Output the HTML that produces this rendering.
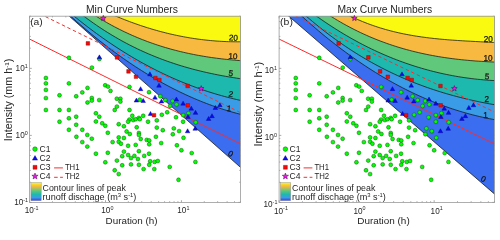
<!DOCTYPE html><html><head><meta charset="utf-8"><style>html,body{margin:0;padding:0;background:#fff;overflow:hidden}svg{display:block;will-change:transform}text{font-family:"Liberation Sans",sans-serif}</style></head><body>
<svg width="500" height="231" viewBox="0 0 500 231">
<rect width="500" height="231" fill="#fff"/>
<clipPath id="ca"><rect x="29.6" y="16.2" width="210.9" height="186.2"/></clipPath>
<path d="M29.6,202.4v-2.2 M29.6,16.2v2.2 M29.6,202.4h2.2 M240.5,202.4h-2.2 M52.45,202.4v-1.2 M52.45,16.2v1.2 M29.6,182.22h1.2 M240.5,182.22h-1.2 M65.82,202.4v-1.2 M65.82,16.2v1.2 M29.6,170.42h1.2 M240.5,170.42h-1.2 M75.3,202.4v-1.2 M75.3,16.2v1.2 M29.6,162.05h1.2 M240.5,162.05h-1.2 M82.66,202.4v-1.2 M82.66,16.2v1.2 M29.6,155.55h1.2 M240.5,155.55h-1.2 M88.67,202.4v-1.2 M88.67,16.2v1.2 M29.6,150.25h1.2 M240.5,150.25h-1.2 M93.75,202.4v-1.2 M93.75,16.2v1.2 M29.6,145.76h1.2 M240.5,145.76h-1.2 M98.16,202.4v-1.2 M98.16,16.2v1.2 M29.6,141.87h1.2 M240.5,141.87h-1.2 M102.04,202.4v-1.2 M102.04,16.2v1.2 M29.6,138.44h1.2 M240.5,138.44h-1.2 M105.51,202.4v-2.2 M105.51,16.2v2.2 M29.6,135.38h2.2 M240.5,135.38h-2.2 M128.37,202.4v-1.2 M128.37,16.2v1.2 M29.6,115.2h1.2 M240.5,115.2h-1.2 M141.73,202.4v-1.2 M141.73,16.2v1.2 M29.6,103.4h1.2 M240.5,103.4h-1.2 M151.22,202.4v-1.2 M151.22,16.2v1.2 M29.6,95.03h1.2 M240.5,95.03h-1.2 M158.58,202.4v-1.2 M158.58,16.2v1.2 M29.6,88.53h1.2 M240.5,88.53h-1.2 M164.59,202.4v-1.2 M164.59,16.2v1.2 M29.6,83.22h1.2 M240.5,83.22h-1.2 M169.67,202.4v-1.2 M169.67,16.2v1.2 M29.6,78.74h1.2 M240.5,78.74h-1.2 M174.07,202.4v-1.2 M174.07,16.2v1.2 M29.6,74.85h1.2 M240.5,74.85h-1.2 M177.95,202.4v-1.2 M177.95,16.2v1.2 M29.6,71.42h1.2 M240.5,71.42h-1.2 M181.43,202.4v-2.2 M181.43,16.2v2.2 M29.6,68.35h2.2 M240.5,68.35h-2.2 M204.28,202.4v-1.2 M204.28,16.2v1.2 M29.6,48.18h1.2 M240.5,48.18h-1.2 M217.65,202.4v-1.2 M217.65,16.2v1.2 M29.6,36.38h1.2 M240.5,36.38h-1.2 M227.13,202.4v-1.2 M227.13,16.2v1.2 M29.6,28h1.2 M240.5,28h-1.2 M234.49,202.4v-1.2 M234.49,16.2v1.2 M29.6,21.51h1.2 M240.5,21.51h-1.2 M240.5,202.4v-1.2 M240.5,16.2v1.2 M29.6,16.2h1.2 M240.5,16.2h-1.2" stroke="#555" stroke-width="0.5" fill="none"/>
<g clip-path="url(#ca)">
<path d="M-8.36,-52.36 L257.34,182.22 L260.5,182.22 L260.5,-3.8 L-8.36,-3.8Z" fill="#3A6DF0"/>
<path d="M67.36,13.14 70.32,15.84 73.28,18.51 76.24,21.14 79.2,23.74 82.16,26.3 85.12,28.83 88.08,31.33 91.04,33.79 94,36.22 96.96,38.61 99.92,40.97 102.88,43.3 105.84,45.59 108.81,47.85 111.77,50.08 114.73,52.27 117.69,54.42 120.65,56.55 123.61,58.64 126.57,60.69 129.53,62.71 132.49,64.7 135.45,66.66 138.41,68.58 141.37,70.46 144.33,72.32 147.29,74.13 150.25,75.92 153.21,77.67 156.17,79.39 159.13,81.08 162.09,82.73 165.05,84.35 168.01,85.93 170.97,87.48 173.93,89 176.89,90.48 179.85,91.93 182.81,93.35 185.77,94.73 188.73,96.08 191.69,97.4 194.65,98.68 197.61,99.93 200.57,101.15 203.53,102.33 206.49,103.48 209.46,104.6 212.42,105.68 215.38,106.73 218.34,107.75 221.3,108.73 224.26,109.68 227.22,110.6 230.18,111.48 233.14,112.33 236.1,113.15 239.06,113.94 242.02,114.69 L260.5,114.69 L260.5,-3.8 L67.36,-3.8Z" fill="#3A9CE6"/>
<path d="M70.44,13.12 73.34,15.54 76.25,17.91 79.16,20.26 82.07,22.57 84.98,24.84 87.88,27.08 90.79,29.29 93.7,31.46 96.61,33.6 99.52,35.7 102.43,37.78 105.33,39.81 108.24,41.82 111.15,43.79 114.06,45.73 116.97,47.64 119.87,49.51 122.78,51.35 125.69,53.16 128.6,54.94 131.51,56.68 134.42,58.4 137.32,60.08 140.23,61.73 143.14,63.35 146.05,64.93 148.96,66.49 151.86,68.01 154.77,69.51 157.68,70.97 160.59,72.4 163.5,73.81 166.41,75.18 169.31,76.52 172.22,77.83 175.13,79.12 178.04,80.37 180.95,81.59 183.85,82.79 186.76,83.95 189.67,85.09 192.58,86.19 195.49,87.27 198.4,88.32 201.3,89.34 204.21,90.33 207.12,91.3 210.03,92.23 212.94,93.14 215.84,94.02 218.75,94.87 221.66,95.7 224.57,96.49 227.48,97.27 230.39,98.01 233.29,98.73 236.2,99.42 239.11,100.08 242.02,100.72 L260.5,100.72 L260.5,-3.8 L70.44,-3.8Z" fill="#1DB9AF"/>
<path d="M79.89,13.14 82.63,15.25 85.38,17.32 88.13,19.35 90.88,21.33 93.63,23.27 96.37,25.17 99.12,27.02 101.87,28.84 104.62,30.61 107.37,32.35 110.11,34.04 112.86,35.7 115.61,37.31 118.36,38.89 121.11,40.44 123.85,41.94 126.6,43.41 129.35,44.84 132.1,46.24 134.85,47.6 137.59,48.93 140.34,50.22 143.09,51.48 145.84,52.71 148.59,53.91 151.33,55.07 154.08,56.2 156.83,57.3 159.58,58.38 162.33,59.42 165.07,60.43 167.82,61.41 170.57,62.37 173.32,63.29 176.07,64.19 178.81,65.07 181.56,65.91 184.31,66.73 187.06,67.53 189.81,68.3 192.55,69.05 195.3,69.77 198.05,70.47 200.8,71.14 203.55,71.8 206.29,72.43 209.04,73.04 211.79,73.63 214.54,74.21 217.29,74.76 220.03,75.29 222.78,75.8 225.53,76.3 228.28,76.78 231.03,77.24 233.77,77.68 236.52,78.11 239.27,78.52 242.02,78.92 L260.5,78.92 L260.5,-3.8 L79.89,-3.8Z" fill="#5FC87B"/>
<path d="M91.38,13.16 93.94,14.81 96.49,16.42 99.04,18 101.6,19.54 104.15,21.05 106.7,22.52 109.26,23.96 111.81,25.36 114.36,26.73 116.92,28.06 119.47,29.36 122.02,30.63 124.58,31.86 127.13,33.06 129.68,34.24 132.23,35.37 134.79,36.48 137.34,37.56 139.89,38.61 142.45,39.63 145,40.62 147.55,41.58 150.11,42.51 152.66,43.42 155.21,44.3 157.77,45.15 160.32,45.97 162.87,46.77 165.43,47.54 167.98,48.29 170.53,49.01 173.08,49.71 175.64,50.38 178.19,51.03 180.74,51.65 183.3,52.26 185.85,52.84 188.4,53.39 190.96,53.93 193.51,54.45 196.06,54.94 198.62,55.42 201.17,55.87 203.72,56.3 206.27,56.72 208.83,57.12 211.38,57.5 213.93,57.86 216.49,58.2 219.04,58.52 221.59,58.83 224.15,59.13 226.7,59.4 229.25,59.67 231.81,59.91 234.36,60.15 236.91,60.36 239.47,60.57 242.02,60.76 L260.5,60.76 L260.5,-3.8 L91.38,-3.8Z" fill="#F7B93F"/>
<path d="M109.03,13.16 111.29,14.16 113.54,15.14 115.79,16.1 118.05,17.04 120.3,17.96 122.56,18.87 124.81,19.76 127.06,20.64 129.32,21.49 131.57,22.33 133.83,23.15 136.08,23.95 138.33,24.73 140.59,25.5 142.84,26.25 145.1,26.98 147.35,27.7 149.6,28.39 151.86,29.07 154.11,29.73 156.37,30.37 158.62,31 160.87,31.61 163.13,32.2 165.38,32.77 167.64,33.33 169.89,33.86 172.14,34.38 174.4,34.89 176.65,35.37 178.91,35.84 181.16,36.29 183.41,36.72 185.67,37.13 187.92,37.53 190.18,37.91 192.43,38.27 194.68,38.61 196.94,38.94 199.19,39.25 201.45,39.54 203.7,39.81 205.95,40.07 208.21,40.3 210.46,40.52 212.72,40.73 214.97,40.91 217.22,41.08 219.48,41.23 221.73,41.36 223.99,41.47 226.24,41.57 228.49,41.65 230.75,41.71 233,41.75 235.26,41.78 237.51,41.79 239.76,41.78 242.02,41.75 L260.5,41.75 L260.5,-3.8 L109.03,-3.8Z" fill="#F9FA10"/>
<path d="M-8.36,-52.36 257.34,182.22 M67.36,13.14 70.32,15.84 73.28,18.51 76.24,21.14 79.2,23.74 82.16,26.3 85.12,28.83 88.08,31.33 91.04,33.79 94,36.22 96.96,38.61 99.92,40.97 102.88,43.3 105.84,45.59 108.81,47.85 111.77,50.08 114.73,52.27 117.69,54.42 120.65,56.55 123.61,58.64 126.57,60.69 129.53,62.71 132.49,64.7 135.45,66.66 138.41,68.58 141.37,70.46 144.33,72.32 147.29,74.13 150.25,75.92 153.21,77.67 156.17,79.39 159.13,81.08 162.09,82.73 165.05,84.35 168.01,85.93 170.97,87.48 173.93,89 176.89,90.48 179.85,91.93 182.81,93.35 185.77,94.73 188.73,96.08 191.69,97.4 194.65,98.68 197.61,99.93 200.57,101.15 203.53,102.33 206.49,103.48 209.46,104.6 212.42,105.68 215.38,106.73 218.34,107.75 221.3,108.73 224.26,109.68 227.22,110.6 230.18,111.48 233.14,112.33 236.1,113.15 239.06,113.94 242.02,114.69 M70.44,13.12 73.34,15.54 76.25,17.91 79.16,20.26 82.07,22.57 84.98,24.84 87.88,27.08 90.79,29.29 93.7,31.46 96.61,33.6 99.52,35.7 102.43,37.78 105.33,39.81 108.24,41.82 111.15,43.79 114.06,45.73 116.97,47.64 119.87,49.51 122.78,51.35 125.69,53.16 128.6,54.94 131.51,56.68 134.42,58.4 137.32,60.08 140.23,61.73 143.14,63.35 146.05,64.93 148.96,66.49 151.86,68.01 154.77,69.51 157.68,70.97 160.59,72.4 163.5,73.81 166.41,75.18 169.31,76.52 172.22,77.83 175.13,79.12 178.04,80.37 180.95,81.59 183.85,82.79 186.76,83.95 189.67,85.09 192.58,86.19 195.49,87.27 198.4,88.32 201.3,89.34 204.21,90.33 207.12,91.3 210.03,92.23 212.94,93.14 215.84,94.02 218.75,94.87 221.66,95.7 224.57,96.49 227.48,97.27 230.39,98.01 233.29,98.73 236.2,99.42 239.11,100.08 242.02,100.72 M79.89,13.14 82.63,15.25 85.38,17.32 88.13,19.35 90.88,21.33 93.63,23.27 96.37,25.17 99.12,27.02 101.87,28.84 104.62,30.61 107.37,32.35 110.11,34.04 112.86,35.7 115.61,37.31 118.36,38.89 121.11,40.44 123.85,41.94 126.6,43.41 129.35,44.84 132.1,46.24 134.85,47.6 137.59,48.93 140.34,50.22 143.09,51.48 145.84,52.71 148.59,53.91 151.33,55.07 154.08,56.2 156.83,57.3 159.58,58.38 162.33,59.42 165.07,60.43 167.82,61.41 170.57,62.37 173.32,63.29 176.07,64.19 178.81,65.07 181.56,65.91 184.31,66.73 187.06,67.53 189.81,68.3 192.55,69.05 195.3,69.77 198.05,70.47 200.8,71.14 203.55,71.8 206.29,72.43 209.04,73.04 211.79,73.63 214.54,74.21 217.29,74.76 220.03,75.29 222.78,75.8 225.53,76.3 228.28,76.78 231.03,77.24 233.77,77.68 236.52,78.11 239.27,78.52 242.02,78.92 M91.38,13.16 93.94,14.81 96.49,16.42 99.04,18 101.6,19.54 104.15,21.05 106.7,22.52 109.26,23.96 111.81,25.36 114.36,26.73 116.92,28.06 119.47,29.36 122.02,30.63 124.58,31.86 127.13,33.06 129.68,34.24 132.23,35.37 134.79,36.48 137.34,37.56 139.89,38.61 142.45,39.63 145,40.62 147.55,41.58 150.11,42.51 152.66,43.42 155.21,44.3 157.77,45.15 160.32,45.97 162.87,46.77 165.43,47.54 167.98,48.29 170.53,49.01 173.08,49.71 175.64,50.38 178.19,51.03 180.74,51.65 183.3,52.26 185.85,52.84 188.4,53.39 190.96,53.93 193.51,54.45 196.06,54.94 198.62,55.42 201.17,55.87 203.72,56.3 206.27,56.72 208.83,57.12 211.38,57.5 213.93,57.86 216.49,58.2 219.04,58.52 221.59,58.83 224.15,59.13 226.7,59.4 229.25,59.67 231.81,59.91 234.36,60.15 236.91,60.36 239.47,60.57 242.02,60.76 M109.03,13.16 111.29,14.16 113.54,15.14 115.79,16.1 118.05,17.04 120.3,17.96 122.56,18.87 124.81,19.76 127.06,20.64 129.32,21.49 131.57,22.33 133.83,23.15 136.08,23.95 138.33,24.73 140.59,25.5 142.84,26.25 145.1,26.98 147.35,27.7 149.6,28.39 151.86,29.07 154.11,29.73 156.37,30.37 158.62,31 160.87,31.61 163.13,32.2 165.38,32.77 167.64,33.33 169.89,33.86 172.14,34.38 174.4,34.89 176.65,35.37 178.91,35.84 181.16,36.29 183.41,36.72 185.67,37.13 187.92,37.53 190.18,37.91 192.43,38.27 194.68,38.61 196.94,38.94 199.19,39.25 201.45,39.54 203.7,39.81 205.95,40.07 208.21,40.3 210.46,40.52 212.72,40.73 214.97,40.91 217.22,41.08 219.48,41.23 221.73,41.36 223.99,41.47 226.24,41.57 228.49,41.65 230.75,41.71 233,41.75 235.26,41.78 237.51,41.79 239.76,41.78 242.02,41.75" fill="none" stroke="#141414" stroke-width="0.75"/>
<path d="M6.83,27.77 257.34,152.31" stroke="#FF2B2B" stroke-width="1" fill="none"/>
<path d="M6.83,-2.37 257.34,120.91" stroke="#FF2B2B" stroke-width="1" fill="none" stroke-dasharray="3.4 2.7" stroke-dashoffset="5.7"/>
</g>
<rect x="29.6" y="16.2" width="210.9" height="186.2" fill="none" stroke="#9a9a9a" stroke-width="0.8"/>
<g fill="#00FF00" stroke="#0C4A0C" stroke-width="0.45"><circle cx="68.9" cy="57.8" r="1.95"/><circle cx="99.4" cy="59" r="1.95"/><circle cx="91.9" cy="67.6" r="1.95"/><circle cx="45.9" cy="78" r="1.95"/><circle cx="45.9" cy="83.4" r="1.95"/><circle cx="45.9" cy="89.9" r="1.95"/><circle cx="45.9" cy="98.1" r="1.95"/><circle cx="68.9" cy="83.4" r="1.95"/><circle cx="59.5" cy="95.3" r="1.95"/><circle cx="76.2" cy="96.3" r="1.95"/><circle cx="82.3" cy="92.4" r="1.95"/><circle cx="87.5" cy="87.9" r="1.95"/><circle cx="87.5" cy="102.5" r="1.95"/><circle cx="105.2" cy="85.3" r="1.95"/><circle cx="108" cy="86.6" r="1.95"/><circle cx="110.5" cy="90.9" r="1.95"/><circle cx="129.5" cy="86.9" r="1.95"/><circle cx="149" cy="92.2" r="1.95"/><circle cx="91.8" cy="98" r="1.95"/><circle cx="91.8" cy="100.6" r="1.95"/><circle cx="99.2" cy="100.1" r="1.95"/><circle cx="116.8" cy="98.7" r="1.95"/><circle cx="120.4" cy="98.7" r="1.95"/><circle cx="120.4" cy="101.6" r="1.95"/><circle cx="139.8" cy="99.7" r="1.95"/><circle cx="160.3" cy="96.3" r="1.95"/><circle cx="165.3" cy="100.1" r="1.95"/><circle cx="172.6" cy="101" r="1.95"/><circle cx="45.9" cy="110" r="1.95"/><circle cx="59.5" cy="110" r="1.95"/><circle cx="68.9" cy="110" r="1.95"/><circle cx="68.9" cy="118.3" r="1.95"/><circle cx="76.2" cy="116.7" r="1.95"/><circle cx="59.5" cy="121.7" r="1.95"/><circle cx="76.2" cy="124.8" r="1.95"/><circle cx="68.9" cy="129.8" r="1.95"/><circle cx="82.3" cy="129.8" r="1.95"/><circle cx="116.9" cy="106.6" r="1.95"/><circle cx="114.7" cy="110" r="1.95"/><circle cx="129.5" cy="110" r="1.95"/><circle cx="95.9" cy="113.3" r="1.95"/><circle cx="99.3" cy="116.7" r="1.95"/><circle cx="95.9" cy="121.5" r="1.95"/><circle cx="102.2" cy="123.3" r="1.95"/><circle cx="105.3" cy="125.8" r="1.95"/><circle cx="118.7" cy="124.2" r="1.95"/><circle cx="123.9" cy="126.3" r="1.95"/><circle cx="132.3" cy="115.8" r="1.95"/><circle cx="129.4" cy="119.6" r="1.95"/><circle cx="128.1" cy="121.7" r="1.95"/><circle cx="133.2" cy="120.1" r="1.95"/><circle cx="135.7" cy="119.2" r="1.95"/><circle cx="138.9" cy="117.9" r="1.95"/><circle cx="139.8" cy="119.2" r="1.95"/><circle cx="143.2" cy="115.8" r="1.95"/><circle cx="148" cy="121.7" r="1.95"/><circle cx="136.7" cy="127.3" r="1.95"/><circle cx="170.1" cy="106" r="1.95"/><circle cx="176.6" cy="104.5" r="1.95"/><circle cx="167.2" cy="112.3" r="1.95"/><circle cx="161.8" cy="114.8" r="1.95"/><circle cx="176" cy="117.3" r="1.95"/><circle cx="183.1" cy="115.1" r="1.95"/><circle cx="188.5" cy="113.2" r="1.95"/><circle cx="156.8" cy="120.4" r="1.95"/><circle cx="183.1" cy="121.7" r="1.95"/><circle cx="195.7" cy="122.3" r="1.95"/><circle cx="156.8" cy="127.6" r="1.95"/><circle cx="173.8" cy="128.4" r="1.95"/><circle cx="162.8" cy="130.2" r="1.95"/><circle cx="76.4" cy="136.8" r="1.95"/><circle cx="87.3" cy="134.9" r="1.95"/><circle cx="82.3" cy="142.1" r="1.95"/><circle cx="87.3" cy="146.6" r="1.95"/><circle cx="107.8" cy="132.8" r="1.95"/><circle cx="91.8" cy="138.7" r="1.95"/><circle cx="112.6" cy="142.1" r="1.95"/><circle cx="118.7" cy="137.4" r="1.95"/><circle cx="123.9" cy="138" r="1.95"/><circle cx="118.7" cy="141.8" r="1.95"/><circle cx="121" cy="143.7" r="1.95"/><circle cx="126.6" cy="131.5" r="1.95"/><circle cx="129.8" cy="134" r="1.95"/><circle cx="138.9" cy="133" r="1.95"/><circle cx="138.9" cy="134.9" r="1.95"/><circle cx="140.7" cy="139" r="1.95"/><circle cx="146.7" cy="139.9" r="1.95"/><circle cx="149.2" cy="140.5" r="1.95"/><circle cx="149.2" cy="144.3" r="1.95"/><circle cx="128.1" cy="145.8" r="1.95"/><circle cx="135.7" cy="144.9" r="1.95"/><circle cx="95.9" cy="153.7" r="1.95"/><circle cx="107.8" cy="152.8" r="1.95"/><circle cx="123.9" cy="151.6" r="1.95"/><circle cx="138.9" cy="151.2" r="1.95"/><circle cx="149" cy="153.7" r="1.95"/><circle cx="122.2" cy="156.2" r="1.95"/><circle cx="128.1" cy="155" r="1.95"/><circle cx="134.4" cy="155.9" r="1.95"/><circle cx="144.2" cy="155.9" r="1.95"/><circle cx="179.1" cy="131.1" r="1.95"/><circle cx="172.8" cy="134.3" r="1.95"/><circle cx="183.5" cy="137.8" r="1.95"/><circle cx="155.9" cy="136.8" r="1.95"/><circle cx="161.2" cy="143.1" r="1.95"/><circle cx="176.9" cy="145.3" r="1.95"/><circle cx="181.4" cy="150.3" r="1.95"/><circle cx="191.7" cy="153.1" r="1.95"/><circle cx="105.3" cy="162.3" r="1.95"/><circle cx="116.9" cy="160.6" r="1.95"/><circle cx="131" cy="158.1" r="1.95"/><circle cx="137.9" cy="159" r="1.95"/><circle cx="150.2" cy="161.3" r="1.95"/><circle cx="122.2" cy="165.3" r="1.95"/><circle cx="131" cy="164.4" r="1.95"/><circle cx="138.9" cy="164.8" r="1.95"/><circle cx="143.6" cy="169.1" r="1.95"/><circle cx="114.7" cy="170.3" r="1.95"/><circle cx="118.7" cy="174.1" r="1.95"/><circle cx="149.2" cy="164.8" r="1.95"/><circle cx="154.6" cy="161.9" r="1.95"/><circle cx="157.8" cy="161" r="1.95"/><circle cx="154.3" cy="169.1" r="1.95"/><circle cx="169.7" cy="166.9" r="1.95"/><circle cx="195.4" cy="161.9" r="1.95"/><circle cx="178.5" cy="179.8" r="1.95"/></g><path d="M97.1,58.85 L99.4,54.85 L101.7,58.85Z M147.6,75.85 L149.9,71.85 L152.2,75.85Z M156.7,87.15 L159,83.15 L161.3,87.15Z M138.3,90.65 L140.6,86.65 L142.9,90.65Z M134.1,102.05 L136.4,98.05 L138.7,102.05Z M140.9,102.45 L143.2,98.45 L145.5,102.45Z M152.7,99.15 L155,95.15 L157.3,99.15Z M159.2,102.95 L161.5,98.95 L163.8,102.95Z M174.1,101.05 L176.4,97.05 L178.7,101.05Z M180.8,105.15 L183.1,101.15 L185.4,105.15Z M189,110.15 L191.3,106.15 L193.6,110.15Z M193.2,114.35 L195.5,110.35 L197.8,114.35Z M185.7,118.45 L188,114.45 L190.3,118.45Z M213.1,109.45 L215.4,105.45 L217.7,109.45Z M217.6,106.75 L219.9,102.75 L222.2,106.75Z M206.3,120.45 L208.6,116.45 L210.9,120.45Z M209.7,117.65 L212,113.65 L214.3,117.65Z M148.2,115.45 L150.5,111.45 L152.8,115.45Z M185.3,132.75 L187.6,128.75 L189.9,132.75Z M192.9,130.25 L195.2,126.25 L197.5,130.25Z" fill="#0A0AF0" stroke="#00008A" stroke-width="0.4"/><path d="M86.1,41.6h3.6v3.6h-3.6Z M115.2,55.6h3.6v3.6h-3.6Z M126.7,69.6h3.6v3.6h-3.6Z M134.2,75h3.6v3.6h-3.6Z M153.6,76.2h3.6v3.6h-3.6Z M157.6,78.2h3.6v3.6h-3.6Z M185.8,84.2h3.6v3.6h-3.6Z M186,103.5h3.6v3.6h-3.6Z M152.2,113.4h3.6v3.6h-3.6Z" fill="#F00A0A" stroke="#8A0000" stroke-width="0.4"/><path d="M103.3,15.3 104.06,17.25 106.15,17.37 104.54,18.7 105.06,20.73 103.3,19.6 101.54,20.73 102.06,18.7 100.45,17.37 102.54,17.25Z M201.2,85.6 201.96,87.55 204.05,87.67 202.44,89 202.96,91.03 201.2,89.9 199.44,91.03 199.96,89 198.35,87.67 200.44,87.55Z" fill="#F014F0" stroke="#3A003A" stroke-width="0.45"/>
<clipPath id="cb"><rect x="279.1" y="16.2" width="215.4" height="186.2"/></clipPath>
<path d="M279.1,202.4v-2.2 M279.1,16.2v2.2 M279.1,202.4h2.2 M494.5,202.4h-2.2 M302.44,202.4v-1.2 M302.44,16.2v1.2 M279.1,182.22h1.2 M494.5,182.22h-1.2 M316.09,202.4v-1.2 M316.09,16.2v1.2 M279.1,170.42h1.2 M494.5,170.42h-1.2 M325.78,202.4v-1.2 M325.78,16.2v1.2 M279.1,162.05h1.2 M494.5,162.05h-1.2 M333.29,202.4v-1.2 M333.29,16.2v1.2 M279.1,155.55h1.2 M494.5,155.55h-1.2 M339.43,202.4v-1.2 M339.43,16.2v1.2 M279.1,150.25h1.2 M494.5,150.25h-1.2 M344.62,202.4v-1.2 M344.62,16.2v1.2 M279.1,145.76h1.2 M494.5,145.76h-1.2 M349.12,202.4v-1.2 M349.12,16.2v1.2 M279.1,141.87h1.2 M494.5,141.87h-1.2 M353.09,202.4v-1.2 M353.09,16.2v1.2 M279.1,138.44h1.2 M494.5,138.44h-1.2 M356.63,202.4v-2.2 M356.63,16.2v2.2 M279.1,135.38h2.2 M494.5,135.38h-2.2 M379.97,202.4v-1.2 M379.97,16.2v1.2 M279.1,115.2h1.2 M494.5,115.2h-1.2 M393.63,202.4v-1.2 M393.63,16.2v1.2 M279.1,103.4h1.2 M494.5,103.4h-1.2 M403.31,202.4v-1.2 M403.31,16.2v1.2 M279.1,95.03h1.2 M494.5,95.03h-1.2 M410.83,202.4v-1.2 M410.83,16.2v1.2 M279.1,88.53h1.2 M494.5,88.53h-1.2 M416.97,202.4v-1.2 M416.97,16.2v1.2 M279.1,83.22h1.2 M494.5,83.22h-1.2 M422.16,202.4v-1.2 M422.16,16.2v1.2 M279.1,78.74h1.2 M494.5,78.74h-1.2 M426.65,202.4v-1.2 M426.65,16.2v1.2 M279.1,74.85h1.2 M494.5,74.85h-1.2 M430.62,202.4v-1.2 M430.62,16.2v1.2 M279.1,71.42h1.2 M494.5,71.42h-1.2 M434.17,202.4v-2.2 M434.17,16.2v2.2 M279.1,68.35h2.2 M494.5,68.35h-2.2 M457.51,202.4v-1.2 M457.51,16.2v1.2 M279.1,48.18h1.2 M494.5,48.18h-1.2 M471.16,202.4v-1.2 M471.16,16.2v1.2 M279.1,36.38h1.2 M494.5,36.38h-1.2 M480.85,202.4v-1.2 M480.85,16.2v1.2 M279.1,28h1.2 M494.5,28h-1.2 M488.36,202.4v-1.2 M488.36,16.2v1.2 M279.1,21.51h1.2 M494.5,21.51h-1.2 M494.5,202.4v-1.2 M494.5,16.2v1.2 M279.1,16.2h1.2 M494.5,16.2h-1.2" stroke="#555" stroke-width="0.5" fill="none"/>
<g clip-path="url(#cb)">
<path d="M240.33,-25.69 L511.7,208.9 L514.5,208.9 L514.5,-3.8 L240.33,-3.8Z" fill="#3A6DF0"/>
<path d="M298.48,13.13 301.83,16.2 305.18,19.23 308.53,22.21 311.87,25.14 315.22,28.03 318.57,30.88 321.92,33.68 325.27,36.44 328.62,39.15 331.97,41.81 335.31,44.44 338.66,47.01 342.01,49.54 345.36,52.03 348.71,54.48 352.06,56.88 355.41,59.23 358.76,61.55 362.1,63.81 365.45,66.04 368.8,68.22 372.15,70.36 375.5,72.45 378.85,74.51 382.2,76.51 385.54,78.48 388.89,80.4 392.24,82.28 395.59,84.12 398.94,85.91 402.29,87.66 405.64,89.37 408.99,91.04 412.33,92.67 415.68,94.25 419.03,95.79 422.38,97.29 425.73,98.75 429.08,100.16 432.43,101.54 435.77,102.87 439.12,104.16 442.47,105.41 445.82,106.62 449.17,107.79 452.52,108.91 455.87,110 459.22,111.05 462.56,112.05 465.91,113.02 469.26,113.94 472.61,114.83 475.96,115.67 479.31,116.47 482.66,117.24 486,117.96 489.35,118.65 492.7,119.29 496.05,119.9 L514.5,119.9 L514.5,-3.8 L298.48,-3.8Z" fill="#3A9CE6"/>
<path d="M302.78,13.12 306.06,16 309.33,18.83 312.61,21.59 315.88,24.31 319.16,26.96 322.44,29.57 325.71,32.11 328.99,34.61 332.26,37.05 335.54,39.44 338.82,41.77 342.09,44.06 345.37,46.29 348.64,48.48 351.92,50.61 355.19,52.7 358.47,54.73 361.75,56.73 365.02,58.67 368.3,60.57 371.57,62.42 374.85,64.22 378.12,65.99 381.4,67.7 384.68,69.38 387.95,71.01 391.23,72.6 394.5,74.15 397.78,75.66 401.05,77.13 404.33,78.55 407.61,79.94 410.88,81.29 414.16,82.61 417.43,83.88 420.71,85.12 423.98,86.33 427.26,87.5 430.54,88.63 433.81,89.73 437.09,90.8 440.36,91.83 443.64,92.83 446.91,93.8 450.19,94.74 453.47,95.65 456.74,96.53 460.02,97.38 463.29,98.2 466.57,98.99 469.84,99.76 473.12,100.5 476.4,101.21 479.67,101.9 482.95,102.57 486.22,103.21 489.5,103.82 492.77,104.41 496.05,104.98 L514.5,104.98 L514.5,-3.8 L302.78,-3.8Z" fill="#1DB9AF"/>
<path d="M312.43,13.18 315.55,15.44 318.66,17.66 321.77,19.83 324.88,21.96 327.99,24.05 331.11,26.1 334.22,28.11 337.33,30.07 340.44,31.99 343.56,33.87 346.67,35.71 349.78,37.51 352.89,39.27 356,40.98 359.12,42.66 362.23,44.3 365.34,45.9 368.45,47.46 371.56,48.98 374.68,50.46 377.79,51.9 380.9,53.31 384.01,54.67 387.13,56 390.24,57.29 393.35,58.55 396.46,59.76 399.57,60.94 402.69,62.09 405.8,63.19 408.91,64.26 412.02,65.3 415.13,66.3 418.25,67.27 421.36,68.2 424.47,69.09 427.58,69.95 430.7,70.78 433.81,71.57 436.92,72.33 440.03,73.06 443.14,73.75 446.26,74.41 449.37,75.03 452.48,75.63 455.59,76.19 458.7,76.72 461.82,77.22 464.93,77.69 468.04,78.12 471.15,78.53 474.27,78.9 477.38,79.25 480.49,79.56 483.6,79.84 486.71,80.1 489.83,80.32 492.94,80.52 496.05,80.69 L514.5,80.69 L514.5,-3.8 L312.43,-3.8Z" fill="#5FC87B"/>
<path d="M326.04,13.19 328.92,15.06 331.8,16.88 334.68,18.65 337.57,20.38 340.45,22.07 343.33,23.7 346.21,25.3 349.09,26.85 351.97,28.36 354.85,29.82 357.74,31.25 360.62,32.63 363.5,33.97 366.38,35.27 369.26,36.54 372.14,37.76 375.03,38.95 377.91,40.1 380.79,41.21 383.67,42.28 386.55,43.32 389.43,44.33 392.31,45.29 395.2,46.23 398.08,47.13 400.96,48 403.84,48.84 406.72,49.64 409.6,50.42 412.49,51.16 415.37,51.87 418.25,52.56 421.13,53.21 424.01,53.84 426.89,54.44 429.78,55.01 432.66,55.56 435.54,56.08 438.42,56.58 441.3,57.05 444.18,57.49 447.06,57.92 449.95,58.32 452.83,58.7 455.71,59.05 458.59,59.39 461.47,59.71 464.35,60 467.24,60.28 470.12,60.54 473,60.78 475.88,61 478.76,61.2 481.64,61.39 484.52,61.56 487.41,61.72 490.29,61.87 493.17,62 496.05,62.11 L514.5,62.11 L514.5,-3.8 L326.04,-3.8Z" fill="#F7B93F"/>
<path d="M344.53,13.17 347.1,14.5 349.67,15.78 352.23,17.02 354.8,18.21 357.37,19.36 359.94,20.47 362.51,21.54 365.07,22.57 367.64,23.56 370.21,24.52 372.78,25.43 375.35,26.31 377.92,27.16 380.48,27.97 383.05,28.74 385.62,29.49 388.19,30.2 390.76,30.88 393.32,31.53 395.89,32.15 398.46,32.74 401.03,33.3 403.6,33.84 406.16,34.35 408.73,34.84 411.3,35.3 413.87,35.74 416.44,36.16 419.01,36.55 421.57,36.93 424.14,37.28 426.71,37.62 429.28,37.93 431.85,38.23 434.41,38.52 436.98,38.78 439.55,39.04 442.12,39.28 444.69,39.5 447.26,39.72 449.82,39.92 452.39,40.11 454.96,40.29 457.53,40.47 460.1,40.63 462.66,40.79 465.23,40.94 467.8,41.09 470.37,41.23 472.94,41.37 475.51,41.51 478.07,41.64 480.64,41.78 483.21,41.91 485.78,42.04 488.35,42.18 490.91,42.32 493.48,42.46 496.05,42.61 L514.5,42.61 L514.5,-3.8 L344.53,-3.8Z" fill="#F9FA10"/>
<path d="M240.33,-25.69 511.7,208.9 M298.48,13.13 301.83,16.2 305.18,19.23 308.53,22.21 311.87,25.14 315.22,28.03 318.57,30.88 321.92,33.68 325.27,36.44 328.62,39.15 331.97,41.81 335.31,44.44 338.66,47.01 342.01,49.54 345.36,52.03 348.71,54.48 352.06,56.88 355.41,59.23 358.76,61.55 362.1,63.81 365.45,66.04 368.8,68.22 372.15,70.36 375.5,72.45 378.85,74.51 382.2,76.51 385.54,78.48 388.89,80.4 392.24,82.28 395.59,84.12 398.94,85.91 402.29,87.66 405.64,89.37 408.99,91.04 412.33,92.67 415.68,94.25 419.03,95.79 422.38,97.29 425.73,98.75 429.08,100.16 432.43,101.54 435.77,102.87 439.12,104.16 442.47,105.41 445.82,106.62 449.17,107.79 452.52,108.91 455.87,110 459.22,111.05 462.56,112.05 465.91,113.02 469.26,113.94 472.61,114.83 475.96,115.67 479.31,116.47 482.66,117.24 486,117.96 489.35,118.65 492.7,119.29 496.05,119.9 M302.78,13.12 306.06,16 309.33,18.83 312.61,21.59 315.88,24.31 319.16,26.96 322.44,29.57 325.71,32.11 328.99,34.61 332.26,37.05 335.54,39.44 338.82,41.77 342.09,44.06 345.37,46.29 348.64,48.48 351.92,50.61 355.19,52.7 358.47,54.73 361.75,56.73 365.02,58.67 368.3,60.57 371.57,62.42 374.85,64.22 378.12,65.99 381.4,67.7 384.68,69.38 387.95,71.01 391.23,72.6 394.5,74.15 397.78,75.66 401.05,77.13 404.33,78.55 407.61,79.94 410.88,81.29 414.16,82.61 417.43,83.88 420.71,85.12 423.98,86.33 427.26,87.5 430.54,88.63 433.81,89.73 437.09,90.8 440.36,91.83 443.64,92.83 446.91,93.8 450.19,94.74 453.47,95.65 456.74,96.53 460.02,97.38 463.29,98.2 466.57,98.99 469.84,99.76 473.12,100.5 476.4,101.21 479.67,101.9 482.95,102.57 486.22,103.21 489.5,103.82 492.77,104.41 496.05,104.98 M312.43,13.18 315.55,15.44 318.66,17.66 321.77,19.83 324.88,21.96 327.99,24.05 331.11,26.1 334.22,28.11 337.33,30.07 340.44,31.99 343.56,33.87 346.67,35.71 349.78,37.51 352.89,39.27 356,40.98 359.12,42.66 362.23,44.3 365.34,45.9 368.45,47.46 371.56,48.98 374.68,50.46 377.79,51.9 380.9,53.31 384.01,54.67 387.13,56 390.24,57.29 393.35,58.55 396.46,59.76 399.57,60.94 402.69,62.09 405.8,63.19 408.91,64.26 412.02,65.3 415.13,66.3 418.25,67.27 421.36,68.2 424.47,69.09 427.58,69.95 430.7,70.78 433.81,71.57 436.92,72.33 440.03,73.06 443.14,73.75 446.26,74.41 449.37,75.03 452.48,75.63 455.59,76.19 458.7,76.72 461.82,77.22 464.93,77.69 468.04,78.12 471.15,78.53 474.27,78.9 477.38,79.25 480.49,79.56 483.6,79.84 486.71,80.1 489.83,80.32 492.94,80.52 496.05,80.69 M326.04,13.19 328.92,15.06 331.8,16.88 334.68,18.65 337.57,20.38 340.45,22.07 343.33,23.7 346.21,25.3 349.09,26.85 351.97,28.36 354.85,29.82 357.74,31.25 360.62,32.63 363.5,33.97 366.38,35.27 369.26,36.54 372.14,37.76 375.03,38.95 377.91,40.1 380.79,41.21 383.67,42.28 386.55,43.32 389.43,44.33 392.31,45.29 395.2,46.23 398.08,47.13 400.96,48 403.84,48.84 406.72,49.64 409.6,50.42 412.49,51.16 415.37,51.87 418.25,52.56 421.13,53.21 424.01,53.84 426.89,54.44 429.78,55.01 432.66,55.56 435.54,56.08 438.42,56.58 441.3,57.05 444.18,57.49 447.06,57.92 449.95,58.32 452.83,58.7 455.71,59.05 458.59,59.39 461.47,59.71 464.35,60 467.24,60.28 470.12,60.54 473,60.78 475.88,61 478.76,61.2 481.64,61.39 484.52,61.56 487.41,61.72 490.29,61.87 493.17,62 496.05,62.11 M344.53,13.17 347.1,14.5 349.67,15.78 352.23,17.02 354.8,18.21 357.37,19.36 359.94,20.47 362.51,21.54 365.07,22.57 367.64,23.56 370.21,24.52 372.78,25.43 375.35,26.31 377.92,27.16 380.48,27.97 383.05,28.74 385.62,29.49 388.19,30.2 390.76,30.88 393.32,31.53 395.89,32.15 398.46,32.74 401.03,33.3 403.6,33.84 406.16,34.35 408.73,34.84 411.3,35.3 413.87,35.74 416.44,36.16 419.01,36.55 421.57,36.93 424.14,37.28 426.71,37.62 429.28,37.93 431.85,38.23 434.41,38.52 436.98,38.78 439.55,39.04 442.12,39.28 444.69,39.5 447.26,39.72 449.82,39.92 452.39,40.11 454.96,40.29 457.53,40.47 460.1,40.63 462.66,40.79 465.23,40.94 467.8,41.09 470.37,41.23 472.94,41.37 475.51,41.51 478.07,41.64 480.64,41.78 483.21,41.91 485.78,42.04 488.35,42.18 490.91,42.32 493.48,42.46 496.05,42.61" fill="none" stroke="#141414" stroke-width="0.75"/>
<path d="M255.84,27.77 511.7,152.31" stroke="#FF2B2B" stroke-width="1" fill="none"/>
<path d="M255.84,-2.97 511.7,120.31" stroke="#FF2B2B" stroke-width="1" fill="none" stroke-dasharray="3.4 2.7" stroke-dashoffset="4.35"/>
</g>
<rect x="279.1" y="16.2" width="215.4" height="186.2" fill="none" stroke="#9a9a9a" stroke-width="0.8"/>
<g fill="#00FF00" stroke="#0C4A0C" stroke-width="0.45"><circle cx="319.24" cy="57.8" r="1.95"/><circle cx="350.39" cy="59" r="1.95"/><circle cx="342.73" cy="67.6" r="1.95"/><circle cx="295.75" cy="78" r="1.95"/><circle cx="295.75" cy="83.4" r="1.95"/><circle cx="295.75" cy="89.9" r="1.95"/><circle cx="295.75" cy="98.1" r="1.95"/><circle cx="319.24" cy="83.4" r="1.95"/><circle cx="309.64" cy="95.3" r="1.95"/><circle cx="326.69" cy="96.3" r="1.95"/><circle cx="332.92" cy="92.4" r="1.95"/><circle cx="338.24" cy="87.9" r="1.95"/><circle cx="338.24" cy="102.5" r="1.95"/><circle cx="356.31" cy="85.3" r="1.95"/><circle cx="359.17" cy="86.6" r="1.95"/><circle cx="361.73" cy="90.9" r="1.95"/><circle cx="381.13" cy="86.9" r="1.95"/><circle cx="401.05" cy="92.2" r="1.95"/><circle cx="342.63" cy="98" r="1.95"/><circle cx="342.63" cy="100.6" r="1.95"/><circle cx="350.19" cy="100.1" r="1.95"/><circle cx="368.16" cy="98.7" r="1.95"/><circle cx="371.84" cy="98.7" r="1.95"/><circle cx="371.84" cy="101.6" r="1.95"/><circle cx="391.65" cy="99.7" r="1.95"/><circle cx="412.59" cy="96.3" r="1.95"/><circle cx="417.7" cy="100.1" r="1.95"/><circle cx="425.15" cy="101" r="1.95"/><circle cx="295.75" cy="110" r="1.95"/><circle cx="309.64" cy="110" r="1.95"/><circle cx="319.24" cy="110" r="1.95"/><circle cx="319.24" cy="118.3" r="1.95"/><circle cx="326.69" cy="116.7" r="1.95"/><circle cx="309.64" cy="121.7" r="1.95"/><circle cx="326.69" cy="124.8" r="1.95"/><circle cx="319.24" cy="129.8" r="1.95"/><circle cx="332.92" cy="129.8" r="1.95"/><circle cx="368.26" cy="106.6" r="1.95"/><circle cx="366.02" cy="110" r="1.95"/><circle cx="381.13" cy="110" r="1.95"/><circle cx="346.81" cy="113.3" r="1.95"/><circle cx="350.29" cy="116.7" r="1.95"/><circle cx="346.81" cy="121.5" r="1.95"/><circle cx="353.25" cy="123.3" r="1.95"/><circle cx="356.42" cy="125.8" r="1.95"/><circle cx="370.1" cy="124.2" r="1.95"/><circle cx="375.41" cy="126.3" r="1.95"/><circle cx="383.99" cy="115.8" r="1.95"/><circle cx="381.03" cy="119.6" r="1.95"/><circle cx="379.7" cy="121.7" r="1.95"/><circle cx="384.91" cy="120.1" r="1.95"/><circle cx="387.46" cy="119.2" r="1.95"/><circle cx="390.73" cy="117.9" r="1.95"/><circle cx="391.65" cy="119.2" r="1.95"/><circle cx="395.12" cy="115.8" r="1.95"/><circle cx="400.03" cy="121.7" r="1.95"/><circle cx="388.49" cy="127.3" r="1.95"/><circle cx="422.6" cy="106" r="1.95"/><circle cx="429.24" cy="104.5" r="1.95"/><circle cx="419.64" cy="112.3" r="1.95"/><circle cx="414.12" cy="114.8" r="1.95"/><circle cx="428.62" cy="117.3" r="1.95"/><circle cx="435.88" cy="115.1" r="1.95"/><circle cx="441.39" cy="113.2" r="1.95"/><circle cx="409.01" cy="120.4" r="1.95"/><circle cx="435.88" cy="121.7" r="1.95"/><circle cx="448.74" cy="122.3" r="1.95"/><circle cx="409.01" cy="127.6" r="1.95"/><circle cx="426.38" cy="128.4" r="1.95"/><circle cx="415.14" cy="130.2" r="1.95"/><circle cx="326.9" cy="136.8" r="1.95"/><circle cx="338.03" cy="134.9" r="1.95"/><circle cx="332.92" cy="142.1" r="1.95"/><circle cx="338.03" cy="146.6" r="1.95"/><circle cx="358.97" cy="132.8" r="1.95"/><circle cx="342.63" cy="138.7" r="1.95"/><circle cx="363.87" cy="142.1" r="1.95"/><circle cx="370.1" cy="137.4" r="1.95"/><circle cx="375.41" cy="138" r="1.95"/><circle cx="370.1" cy="141.8" r="1.95"/><circle cx="372.45" cy="143.7" r="1.95"/><circle cx="378.17" cy="131.5" r="1.95"/><circle cx="381.44" cy="134" r="1.95"/><circle cx="390.73" cy="133" r="1.95"/><circle cx="390.73" cy="134.9" r="1.95"/><circle cx="392.57" cy="139" r="1.95"/><circle cx="398.7" cy="139.9" r="1.95"/><circle cx="401.25" cy="140.5" r="1.95"/><circle cx="401.25" cy="144.3" r="1.95"/><circle cx="379.7" cy="145.8" r="1.95"/><circle cx="387.46" cy="144.9" r="1.95"/><circle cx="346.81" cy="153.7" r="1.95"/><circle cx="358.97" cy="152.8" r="1.95"/><circle cx="375.41" cy="151.6" r="1.95"/><circle cx="390.73" cy="151.2" r="1.95"/><circle cx="401.05" cy="153.7" r="1.95"/><circle cx="373.68" cy="156.2" r="1.95"/><circle cx="379.7" cy="155" r="1.95"/><circle cx="386.14" cy="155.9" r="1.95"/><circle cx="396.15" cy="155.9" r="1.95"/><circle cx="431.79" cy="131.1" r="1.95"/><circle cx="425.36" cy="134.3" r="1.95"/><circle cx="436.28" cy="137.8" r="1.95"/><circle cx="408.09" cy="136.8" r="1.95"/><circle cx="413.51" cy="143.1" r="1.95"/><circle cx="429.54" cy="145.3" r="1.95"/><circle cx="434.14" cy="150.3" r="1.95"/><circle cx="444.66" cy="153.1" r="1.95"/><circle cx="356.42" cy="162.3" r="1.95"/><circle cx="368.26" cy="160.6" r="1.95"/><circle cx="382.66" cy="158.1" r="1.95"/><circle cx="389.71" cy="159" r="1.95"/><circle cx="402.27" cy="161.3" r="1.95"/><circle cx="373.68" cy="165.3" r="1.95"/><circle cx="382.66" cy="164.4" r="1.95"/><circle cx="390.73" cy="164.8" r="1.95"/><circle cx="395.53" cy="169.1" r="1.95"/><circle cx="366.02" cy="170.3" r="1.95"/><circle cx="370.1" cy="174.1" r="1.95"/><circle cx="401.25" cy="164.8" r="1.95"/><circle cx="406.77" cy="161.9" r="1.95"/><circle cx="410.04" cy="161" r="1.95"/><circle cx="406.46" cy="169.1" r="1.95"/><circle cx="422.19" cy="166.9" r="1.95"/><circle cx="448.44" cy="161.9" r="1.95"/><circle cx="431.18" cy="179.8" r="1.95"/></g><path d="M348.09,58.85 L350.39,54.85 L352.69,58.85Z M399.67,75.85 L401.97,71.85 L404.27,75.85Z M408.96,87.15 L411.26,83.15 L413.56,87.15Z M390.17,90.65 L392.47,86.65 L394.77,90.65Z M385.88,102.05 L388.18,98.05 L390.48,102.05Z M392.82,102.45 L395.12,98.45 L397.42,102.45Z M404.88,99.15 L407.18,95.15 L409.48,99.15Z M411.51,102.95 L413.81,98.95 L416.11,102.95Z M426.73,101.05 L429.03,97.05 L431.33,101.05Z M433.58,105.15 L435.88,101.15 L438.18,105.15Z M441.95,110.15 L444.25,106.15 L446.55,110.15Z M446.24,114.35 L448.54,110.35 L450.84,114.35Z M438.58,118.45 L440.88,114.45 L443.18,118.45Z M466.56,109.45 L468.86,105.45 L471.16,109.45Z M471.16,106.75 L473.46,102.75 L475.76,106.75Z M459.62,120.45 L461.92,116.45 L464.22,120.45Z M463.09,117.65 L465.39,113.65 L467.69,117.65Z M400.28,115.45 L402.58,111.45 L404.88,115.45Z M438.17,132.75 L440.47,128.75 L442.77,132.75Z M445.93,130.25 L448.23,126.25 L450.53,130.25Z" fill="#0A0AF0" stroke="#00008A" stroke-width="0.4"/><path d="M336.84,41.6h3.6v3.6h-3.6Z M366.56,55.6h3.6v3.6h-3.6Z M378.31,69.6h3.6v3.6h-3.6Z M385.97,75h3.6v3.6h-3.6Z M405.78,76.2h3.6v3.6h-3.6Z M409.87,78.2h3.6v3.6h-3.6Z M438.67,84.2h3.6v3.6h-3.6Z M438.88,103.5h3.6v3.6h-3.6Z M404.35,113.4h3.6v3.6h-3.6Z" fill="#F00A0A" stroke="#8A0000" stroke-width="0.4"/><path d="M354.37,15.3 355.14,17.25 357.23,17.37 355.61,18.7 356.14,20.73 354.37,19.6 352.61,20.73 353.14,18.7 351.52,17.37 353.61,17.25Z M454.36,85.6 455.13,87.55 457.21,87.67 455.6,89 456.12,91.03 454.36,89.9 452.6,91.03 453.13,89 451.51,87.67 453.6,87.55Z" fill="#F014F0" stroke="#3A003A" stroke-width="0.45"/>
<text x="86" y="12.9" font-size="10.6" fill="#262626" textLength="92" lengthAdjust="spacingAndGlyphs">Min Curve Numbers</text>
<text x="337.5" y="12.9" font-size="10.6" fill="#262626" textLength="94.6" lengthAdjust="spacingAndGlyphs">Max Curve Numbers</text>
<text x="30.2" y="25.0" font-size="9.4" fill="#262626" textLength="12.6" lengthAdjust="spacingAndGlyphs">(a)</text>
<text x="280.1" y="25.2" font-size="9.4" fill="#262626" textLength="12.8" lengthAdjust="spacingAndGlyphs">(b)</text>
<text x="105.6" y="224" font-size="9.7" fill="#262626" textLength="52" lengthAdjust="spacingAndGlyphs">Duration (h)</text>
<text x="357.3" y="224" font-size="9.7" fill="#262626" textLength="52.4" lengthAdjust="spacingAndGlyphs">Duration (h)</text>
<text transform="translate(11.9,141.2) rotate(-90)" font-size="10.2" fill="#262626" textLength="82.6" lengthAdjust="spacingAndGlyphs">Intensity (mm h<tspan font-size="6" dy="-3.4">-1</tspan><tspan dy="3.4">)</tspan></text>
<text transform="translate(262.2,146.6) rotate(-90)" font-size="10.2" fill="#262626" textLength="84.8" lengthAdjust="spacingAndGlyphs">Intensity (mm h<tspan font-size="6" dy="-3.4">-1</tspan><tspan dy="3.4">)</tspan></text>
<text x="24.7" y="213.2" font-size="8.2" fill="#262626">10<tspan font-size="5.4" dy="-3.3">-1</tspan></text>
<text x="101.3" y="213.2" font-size="8.2" fill="#262626">10<tspan font-size="5.4" dy="-3.3">0</tspan></text>
<text x="177.3" y="213.2" font-size="8.2" fill="#262626">10<tspan font-size="5.4" dy="-3.3">1</tspan></text>
<text x="274" y="213.7" font-size="8.2" fill="#262626">10<tspan font-size="5.4" dy="-3.3">-1</tspan></text>
<text x="353.5" y="213.7" font-size="8.2" fill="#262626">10<tspan font-size="5.4" dy="-3.3">0</tspan></text>
<text x="430.6" y="213.7" font-size="8.2" fill="#262626">10<tspan font-size="5.4" dy="-3.3">1</tspan></text>
<text x="14.2" y="205.3" font-size="8.2" fill="#262626">10<tspan font-size="5.4" dy="-3.3">-1</tspan></text>
<text x="15.6" y="138.28" font-size="8.2" fill="#262626">10<tspan font-size="5.4" dy="-3.3">0</tspan></text>
<text x="15.6" y="71.25" font-size="8.2" fill="#262626">10<tspan font-size="5.4" dy="-3.3">1</tspan></text>
<text x="263.5" y="207.3" font-size="8.2" fill="#262626">10<tspan font-size="5.4" dy="-3.3">-1</tspan></text>
<text x="264.8" y="140.28" font-size="8.2" fill="#262626">10<tspan font-size="5.4" dy="-3.3">0</tspan></text>
<text x="264.8" y="73.25" font-size="8.2" fill="#262626">10<tspan font-size="5.4" dy="-3.3">1</tspan></text>
<text transform="translate(233.5,37.6) rotate(3)" x="0" y="2.9" text-anchor="middle" font-size="8.2" fill="#151515" stroke="#151515" stroke-width="0.25">20</text>
<text transform="translate(233,56.2) rotate(3)" x="0" y="2.9" text-anchor="middle" font-size="8.2" fill="#151515" stroke="#151515" stroke-width="0.25">10</text>
<text transform="translate(231,73.2) rotate(8)" x="0" y="2.9" text-anchor="middle" font-size="8.2" fill="#151515" stroke="#151515" stroke-width="0.25">5</text>
<text transform="translate(231,94) rotate(8)" x="0" y="2.9" text-anchor="middle" font-size="8.2" fill="#151515" stroke="#151515" stroke-width="0.25">2</text>
<text transform="translate(229,108.4) rotate(6)" x="0" y="2.9" text-anchor="middle" font-size="8.2" fill="#151515" stroke="#151515" stroke-width="0.25">1</text>
<text transform="translate(230.6,153.5) rotate(30)" x="0" y="2.9" text-anchor="middle" font-size="8.2" fill="#151515" stroke="#151515" stroke-width="0.25">0</text>
<text transform="translate(488.3,38.6) rotate(0)" x="0" y="2.9" text-anchor="middle" font-size="8.2" fill="#151515" stroke="#151515" stroke-width="0.25">20</text>
<text transform="translate(488,58.1) rotate(0)" x="0" y="2.9" text-anchor="middle" font-size="8.2" fill="#151515" stroke="#151515" stroke-width="0.25">10</text>
<text transform="translate(487,76.4) rotate(6)" x="0" y="2.9" text-anchor="middle" font-size="8.2" fill="#151515" stroke="#151515" stroke-width="0.25">5</text>
<text transform="translate(486.8,99.1) rotate(0)" x="0" y="2.9" text-anchor="middle" font-size="8.2" fill="#151515" stroke="#151515" stroke-width="0.25">2</text>
<text transform="translate(485.6,114.9) rotate(0)" x="0" y="2.9" text-anchor="middle" font-size="8.2" fill="#151515" stroke="#151515" stroke-width="0.25">1</text>
<text transform="translate(483.5,178.9) rotate(30)" x="0" y="2.9" text-anchor="middle" font-size="8.2" fill="#151515" stroke="#151515" stroke-width="0.25">0</text>
<defs><linearGradient id="cbar" x1="0" y1="0" x2="0" y2="1"><stop offset="0" stop-color="#F9FA10"/><stop offset="0.2" stop-color="#F7B93F"/><stop offset="0.45" stop-color="#5FC87B"/><stop offset="0.65" stop-color="#1DB9AF"/><stop offset="0.82" stop-color="#3A9CE6"/><stop offset="1" stop-color="#3A3CE8"/></linearGradient></defs>
<circle cx="35" cy="149.1" r="2.3" fill="#00FF00" stroke="#0C4A0C" stroke-width="0.45"/>
<path d="M32.4,160.1 L35,155.6 L37.6,160.1Z" fill="#0A0AF0" stroke="#00008A" stroke-width="0.4"/>
<path d="M33.05,165.35h3.9v3.9h-3.9Z" fill="#F00A0A" stroke="#8A0000" stroke-width="0.4"/>
<path d="M35,173 35.82,175.17 38.14,175.28 36.33,176.73 36.94,178.97 35,177.7 33.06,178.97 33.67,176.73 31.86,175.28 34.18,175.17Z" fill="#F014F0" stroke="#3A003A" stroke-width="0.45"/>
<text x="39.6" y="151.7" font-size="8.6" fill="#262626">C1</text>
<text x="39.6" y="160.7" font-size="8.6" fill="#262626">C2</text>
<text x="39.6" y="169.9" font-size="8.6" fill="#262626">C3</text>
<text x="39.6" y="178.9" font-size="8.6" fill="#262626">C4</text>
<path d="M54.1,167.9h8.8" stroke="#FF2B2B" stroke-width="1"/>
<path d="M54.1,177.3h8.8" stroke="#FF2B2B" stroke-width="1" stroke-dasharray="3.6 2.4"/>
<text x="64.9" y="170.3" font-size="8.6" fill="#262626" textLength="14.6" lengthAdjust="spacingAndGlyphs">TH1</text>
<text x="64.9" y="179.3" font-size="8.6" fill="#262626" textLength="14.8" lengthAdjust="spacingAndGlyphs">TH2</text>
<text x="42.6" y="190.5" font-size="9" fill="#262626" textLength="83.2" lengthAdjust="spacingAndGlyphs">Contour lines of peak</text>
<text x="42.6" y="199.7" font-size="9" fill="#262626" textLength="93.8" lengthAdjust="spacingAndGlyphs">runoff dischage (m<tspan font-size="5.8" dy="-3.2">3</tspan><tspan dy="3.2"> s</tspan><tspan font-size="5.8" dy="-3.2">-1</tspan><tspan dy="3.2">)</tspan></text>
<rect x="30.9" y="182.7" width="10.3" height="18.0" fill="url(#cbar)" stroke="#8a8a8a" stroke-width="0.45"/>
<circle cx="285.4" cy="149.1" r="2.3" fill="#00FF00" stroke="#0C4A0C" stroke-width="0.45"/>
<path d="M282.8,160.1 L285.4,155.6 L288,160.1Z" fill="#0A0AF0" stroke="#00008A" stroke-width="0.4"/>
<path d="M283.45,165.35h3.9v3.9h-3.9Z" fill="#F00A0A" stroke="#8A0000" stroke-width="0.4"/>
<path d="M285.4,173 286.22,175.17 288.54,175.28 286.73,176.73 287.34,178.97 285.4,177.7 283.46,178.97 284.07,176.73 282.26,175.28 284.58,175.17Z" fill="#F014F0" stroke="#3A003A" stroke-width="0.45"/>
<text x="289.6" y="151.7" font-size="8.6" fill="#262626">C1</text>
<text x="289.6" y="160.7" font-size="8.6" fill="#262626">C2</text>
<text x="289.6" y="169.9" font-size="8.6" fill="#262626">C3</text>
<text x="289.6" y="178.9" font-size="8.6" fill="#262626">C4</text>
<path d="M303.6,167.9h8.8" stroke="#FF2B2B" stroke-width="1"/>
<path d="M303.6,177.3h8.8" stroke="#FF2B2B" stroke-width="1" stroke-dasharray="3.6 2.4"/>
<text x="314.4" y="170.3" font-size="8.6" fill="#262626" textLength="14.6" lengthAdjust="spacingAndGlyphs">TH1</text>
<text x="314.4" y="179.3" font-size="8.6" fill="#262626" textLength="14.8" lengthAdjust="spacingAndGlyphs">TH2</text>
<text x="292.1" y="190.5" font-size="9" fill="#262626" textLength="83.2" lengthAdjust="spacingAndGlyphs">Contour lines of peak</text>
<text x="292.1" y="199.7" font-size="9" fill="#262626" textLength="93.8" lengthAdjust="spacingAndGlyphs">runoff dischage (m<tspan font-size="5.8" dy="-3.2">3</tspan><tspan dy="3.2"> s</tspan><tspan font-size="5.8" dy="-3.2">-1</tspan><tspan dy="3.2">)</tspan></text>
<rect x="280.4" y="182.7" width="10.3" height="18.0" fill="url(#cbar)" stroke="#8a8a8a" stroke-width="0.45"/>
</svg></body></html>
